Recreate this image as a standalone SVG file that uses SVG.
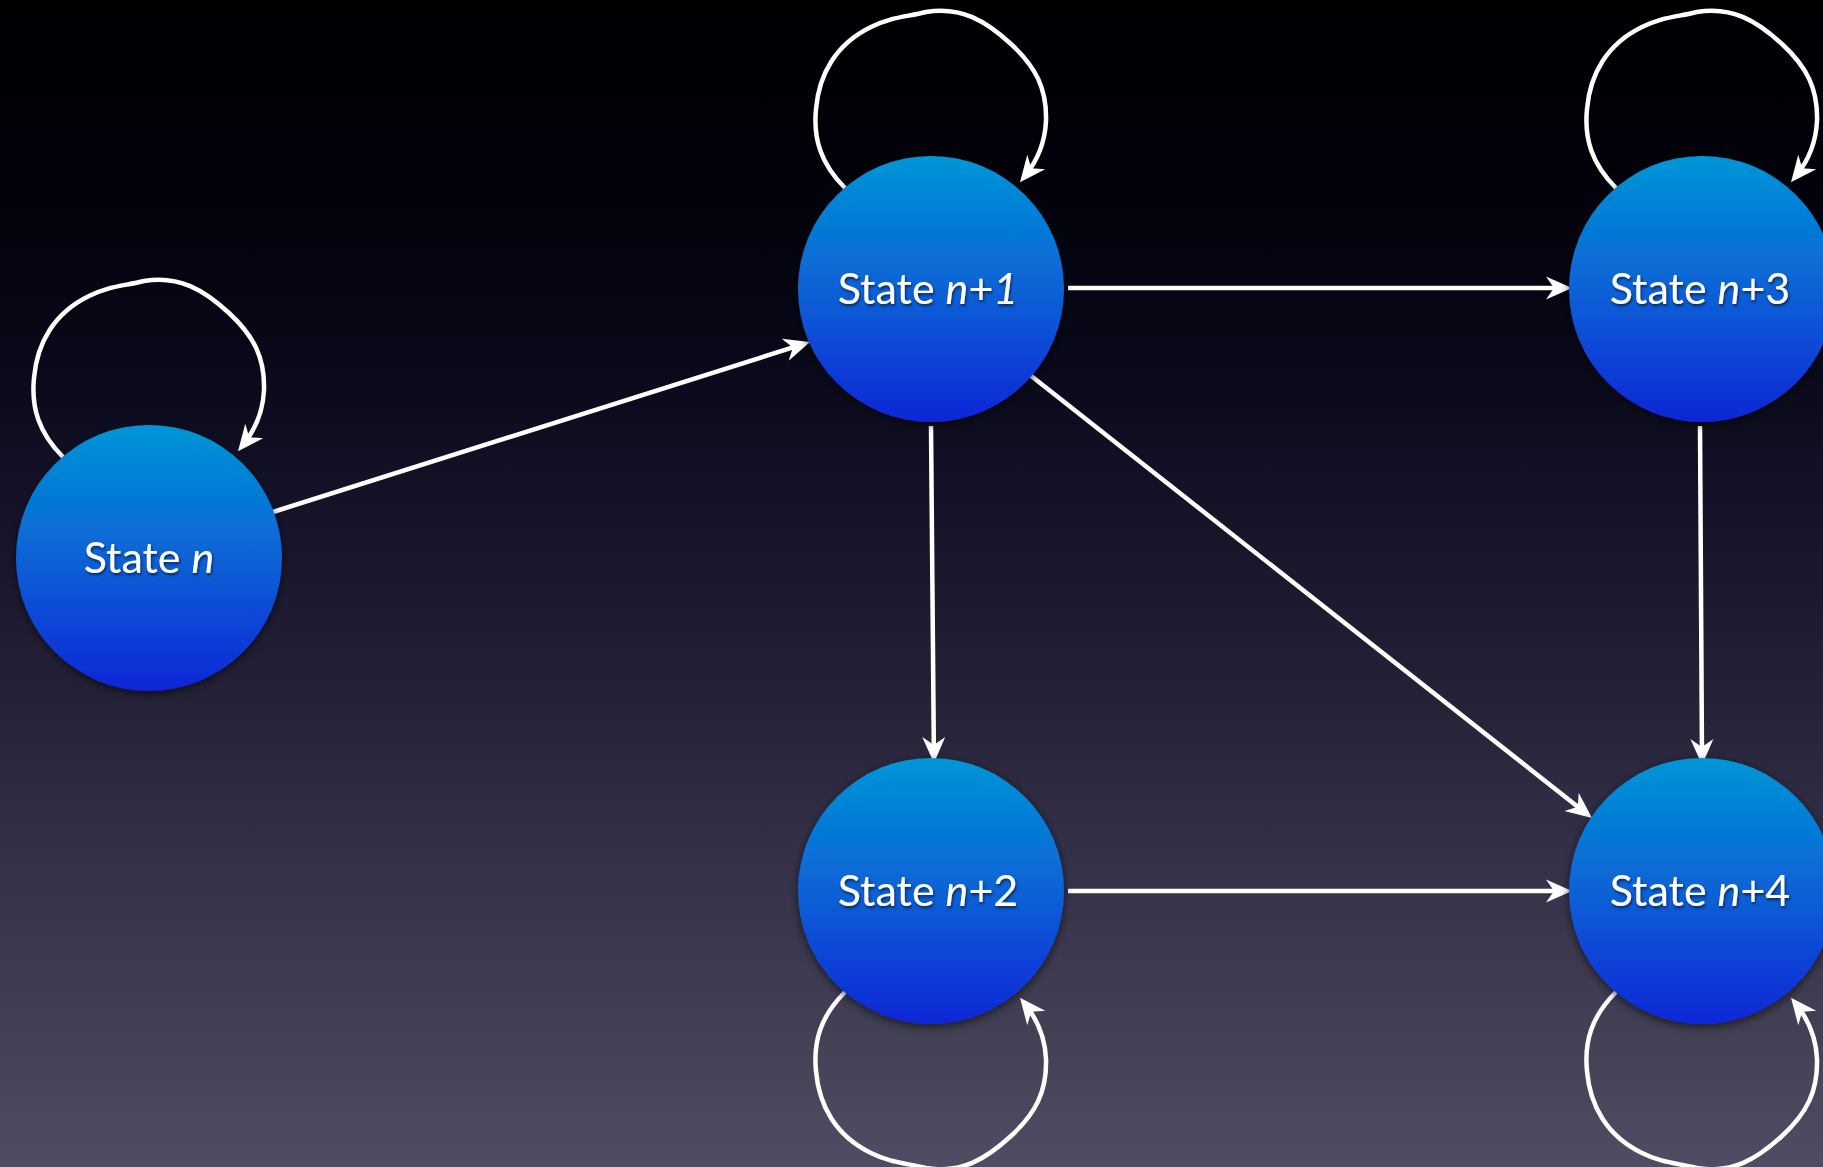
<svg xmlns="http://www.w3.org/2000/svg" width="1823" height="1167" viewBox="0 0 1823 1167">
  <defs>
    <linearGradient id="bg" x1="0" y1="0" x2="0" y2="1">
      <stop offset="0" stop-color="#000003"/>
      <stop offset="0.15" stop-color="#01010a"/>
      <stop offset="0.3" stop-color="#080818"/>
      <stop offset="0.45" stop-color="#17142a"/>
      <stop offset="0.6" stop-color="#252238"/>
      <stop offset="0.75" stop-color="#35324a"/>
      <stop offset="0.9" stop-color="#444257"/>
      <stop offset="1" stop-color="#4f4d63"/>
    </linearGradient>
    <linearGradient id="ball" x1="0" y1="0" x2="0" y2="1">
      <stop offset="0" stop-color="#0096d6"/>
      <stop offset="0.5" stop-color="#0a62d6"/>
      <stop offset="1" stop-color="#1026d6"/>
    </linearGradient>
    <filter id="shadow" x="-20%" y="-20%" width="140%" height="140%">
      <feDropShadow dx="0" dy="3" stdDeviation="5" flood-color="#000" flood-opacity="0.6"/>
    </filter>
    <filter id="tshadow" x="-10%" y="-20%" width="120%" height="140%">
      <feDropShadow dx="1" dy="2" stdDeviation="1.5" flood-color="#000" flood-opacity="0.6"/>
    </filter>
    <marker id="arrow" markerUnits="userSpaceOnUse" viewBox="-20 -13 30 26" refX="0" refY="0" markerWidth="30" markerHeight="26" orient="auto" overflow="visible">
      <path d="M8,0 L-18,-11.5 L-10,0 L-18,11.5 Z" fill="#ffffff"/>
    </marker>
    <path id="loop" d="M -86,-101 C -110,-125 -118,-150 -115,-180 C -112,-215 -95,-245 -60,-262 C -40,-272 -25,-272 -5,-277 C 30,-283 55,-268 80,-245 C 105,-222 116,-200 115,-168 C 114,-145 106,-128 94,-113"/>
  </defs>
  <style>
    .node circle { fill: url(#ball); filter: url(#shadow); }
    .node text { font-family: Lato, "Open Sans", "DejaVu Sans", sans-serif; font-size: 43px; fill: #ffffff; text-anchor: middle; filter: url(#tshadow); }
    .it { font-style: italic; }
    .edge { fill: none; stroke: #ffffff; stroke-width: 4.5; marker-end: url(#arrow); }
  </style>
  <rect x="0" y="0" width="1823" height="1167" fill="url(#bg)"/>

  <g id="connectors">
    <line class="edge" x1="273" y1="512" x2="802.4" y2="344.4"/>
    <line class="edge" x1="1068" y1="288" x2="1564" y2="288"/>
    <line class="edge" x1="931" y1="426" x2="933.9" y2="755"/>
    <line class="edge" x1="1030" y1="375" x2="1585.7" y2="813"/>
    <line class="edge" x1="1700" y1="426" x2="1702" y2="757"/>
    <line class="edge" x1="1068" y1="891" x2="1564" y2="891"/>
    <use href="#loop" class="edge" transform="translate(149,558)"/>
    <use href="#loop" class="edge" transform="translate(931,289)"/>
    <use href="#loop" class="edge" transform="translate(1702,289)"/>
    <use href="#loop" class="edge" transform="translate(931,891) scale(1,-1)"/>
    <use href="#loop" class="edge" transform="translate(1702,891) scale(1,-1)"/>
  </g>

  <g id="state-n" class="node">
    <circle cx="149" cy="558" r="133"/>
    <text x="149" y="573">State <tspan class="it">n</tspan></text>
  </g>
  <g id="state-n1" class="node">
    <circle cx="931" cy="289" r="133"/>
    <text x="928" y="304">State <tspan class="it">n</tspan>+<tspan class="it">1</tspan></text>
  </g>
  <g id="state-n3" class="node">
    <circle cx="1702" cy="289" r="133"/>
    <text x="1700" y="304">State <tspan class="it">n</tspan>+3</text>
  </g>
  <g id="state-n2" class="node">
    <circle cx="931" cy="891" r="133"/>
    <text x="928" y="906">State <tspan class="it">n</tspan>+2</text>
  </g>
  <g id="state-n4" class="node">
    <circle cx="1702" cy="891" r="133"/>
    <text x="1700" y="906">State <tspan class="it">n</tspan>+4</text>
  </g>
</svg>
